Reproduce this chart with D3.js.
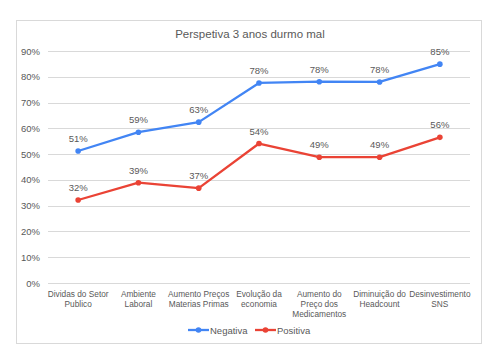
<!DOCTYPE html>
<html><head><meta charset="utf-8">
<script src="https://cdn.jsdelivr.net/npm/d3@7"></script>
<style>body{margin:0;background:#fff}svg{display:block;font-family:Arial,"Liberation Sans",sans-serif}</style>
</head><body><svg id="c" width="500" height="357"></svg>
<script>
const title = "Perspetiva 3 anos durmo mal";
const categories = [["Dividas do Setor","Publico"],["Ambiente","Laboral"],["Aumento Preços","Materias Primas"],["Evolução da","economia"],["Aumento do","Preço dos","Medicamentos"],["Diminuição do","Headcount"],["Desinvestimento","SNS"]];
const negativa = [0.512,0.585,0.624,0.776,0.781,0.780,0.849];
const positiva = [0.322,0.389,0.368,0.541,0.488,0.488,0.565];
const negLabels = ["51%","59%","63%","78%","78%","78%","85%"];
const posLabels = ["32%","39%","37%","54%","49%","49%","56%"];
const yTicks = [0,0.1,0.2,0.3,0.4,0.5,0.6,0.7,0.8,0.9];
const series = [{name:"Negativa",values:negativa,labels:negLabels,color:"#4285f4"},{name:"Positiva",values:positiva,labels:posLabels,color:"#ea4335"}];

const svg = d3.select("#c");
svg.append("rect").attr("x",16.5).attr("y",20.5).attr("width",465).attr("height",323).attr("fill","#fff").attr("stroke","#d9d9d9");
svg.append("text").attr("x",250).attr("y",37.5).attr("text-anchor","middle").attr("font-size",11.5).attr("fill","#595959").text(title);

const x = d3.scaleBand().domain(d3.range(categories.length)).range([48,470]);
const y = d3.scaleLinear().domain([0,0.9]).range([283,51]);

const grid = svg.append("g");
grid.selectAll("line").data(yTicks).join("line").attr("x1",48).attr("x2",470).attr("y1",d=>Math.round(y(d))+0.5).attr("y2",d=>Math.round(y(d))+0.5).attr("stroke","#d9d9d9");

const yAxis = svg.append("g").attr("transform","translate(48,0)").call(d3.axisLeft(y).tickValues(yTicks).tickFormat(d3.format(".0%")).tickSize(0).tickPadding(8));
yAxis.select(".domain").remove();
yAxis.selectAll("text").attr("font-size",9.5).attr("fill","#595959").attr("font-family","Arial,'Liberation Sans',sans-serif");

const xg = svg.append("g");
categories.forEach((c,i)=>{
  const t = xg.append("text").attr("x",x(i)+x.bandwidth()/2).attr("y",297).attr("text-anchor","middle").attr("font-size",8.3).attr("fill","#595959");
  c.forEach((l,j)=>t.append("tspan").attr("x",x(i)+x.bandwidth()/2).attr("dy",j?10:0).text(l));
});

const line = d3.line().x((d,i)=>x(i)+x.bandwidth()/2).y(d=>y(d));
series.forEach(s=>{
  svg.append("path").attr("d",line(s.values)).attr("fill","none").attr("stroke",s.color).attr("stroke-width",2.3).attr("stroke-linejoin","round");
  svg.selectAll(null).data(s.values).join("circle").attr("cx",(d,i)=>x(i)+x.bandwidth()/2).attr("cy",d=>y(d)).attr("r",2.8).attr("fill",s.color);
  svg.selectAll(null).data(s.values).join("text").attr("x",(d,i)=>x(i)+x.bandwidth()/2).attr("y",d=>y(d)-9).attr("text-anchor","middle").attr("font-size",9.5).attr("fill","#595959").text((d,i)=>s.labels[i]);
});

const leg = svg.append("g");
const legX = [188,255];
series.forEach((s,i)=>{
  const g = leg.append("g").attr("transform",`translate(${legX[i]},330)`);
  g.append("line").attr("x1",0).attr("x2",21).attr("y1",0).attr("y2",0).attr("stroke",s.color).attr("stroke-width",2.3);
  g.append("circle").attr("cx",10.5).attr("cy",0).attr("r",2.8).attr("fill",s.color);
  g.append("text").attr("x",22).attr("y",3.5).attr("font-size",9.5).attr("fill","#595959").text(s.name);
});
</script></body></html>
